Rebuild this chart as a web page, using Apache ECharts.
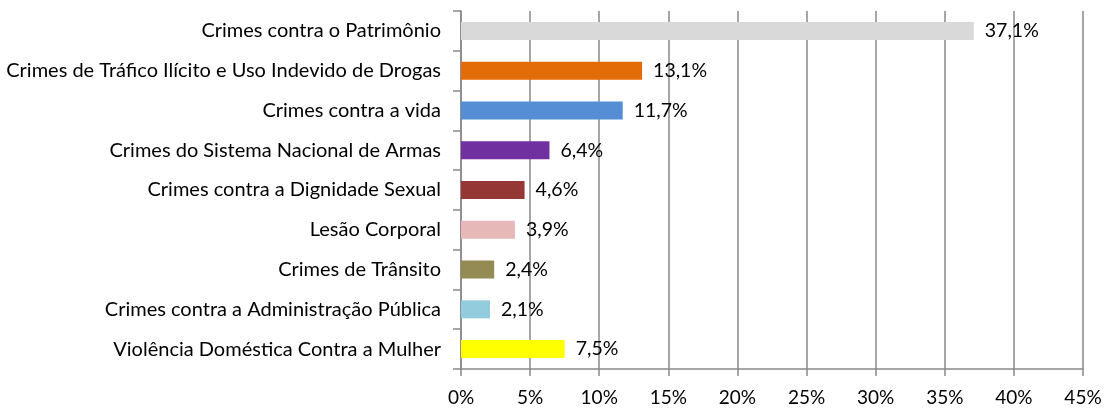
<!DOCTYPE html>
<html><head><meta charset="utf-8">
<script src="https://cdn.jsdelivr.net/npm/echarts@6/dist/echarts.min.js"></script>
<style>html,body{margin:0;padding:0;background:#fff}#c{width:1106px;height:409px}</style>
</head><body><div id="c"></div>
<script>
const categories = [
  "Crimes contra o Patrimônio",
  "Crimes de Tráfico Ilícito e Uso Indevido de Drogas",
  "Crimes contra a vida",
  "Crimes do Sistema Nacional de Armas",
  "Crimes contra a Dignidade Sexual",
  "Lesão Corporal",
  "Crimes de Trânsito",
  "Crimes contra a Administração Pública",
  "Violência Doméstica Contra a Mulher"
];
const values = [37.1, 13.1, 11.7, 6.4, 4.6, 3.9, 2.4, 2.1, 7.5];
const colors = ["#d9d9d9", "#e36c09", "#558ed5", "#7030a0", "#953735", "#e6b9b8", "#948a54", "#93cddd", "#ffff00"];
const xTicks = [0, 5, 10, 15, 20, 25, 30, 35, 40, 45];

const font = "Lato, 'Open Sans', sans-serif";
const chart = echarts.init(document.getElementById('c'), null, {renderer: 'canvas'});
chart.setOption({
  animation: false,
  grid: {left: 461, right: 23, top: 11, bottom: 40, containLabel: false},
  xAxis: {
    type: 'value', min: xTicks[0], max: xTicks[xTicks.length - 1], interval: xTicks[1] - xTicks[0],
    axisLine: {show: true, lineStyle: {color: '#898989', width: 1.5}},
    axisTick: {show: true, length: 7, lineStyle: {color: '#898989', width: 1.5}},
    splitLine: {show: true, lineStyle: {color: '#898989', width: 1.5}},
    axisLabel: {margin: 19, color: '#000', fontFamily: font, fontSize: 19, formatter: v => v + '%'}
  },
  yAxis: {
    type: 'category', inverse: true, data: categories,
    axisLine: {show: true, lineStyle: {color: '#898989', width: 1.5}},
    axisTick: {show: true, length: 8, alignWithLabel: false, lineStyle: {color: '#898989', width: 1.5}},
    axisLabel: {margin: 20, color: '#000', fontFamily: font, fontSize: 20}
  },
  series: [{
    type: 'bar',
    data: values.map((v, i) => ({value: v, itemStyle: {color: colors[i]}})),
    barWidth: 18,
    label: {
      show: true, position: 'right', distance: 11, color: '#000', fontFamily: font, fontSize: 19.5,
      formatter: p => p.value.toFixed(1).replace('.', ',') + '%'
    }
  }]
});
</script></body></html>
